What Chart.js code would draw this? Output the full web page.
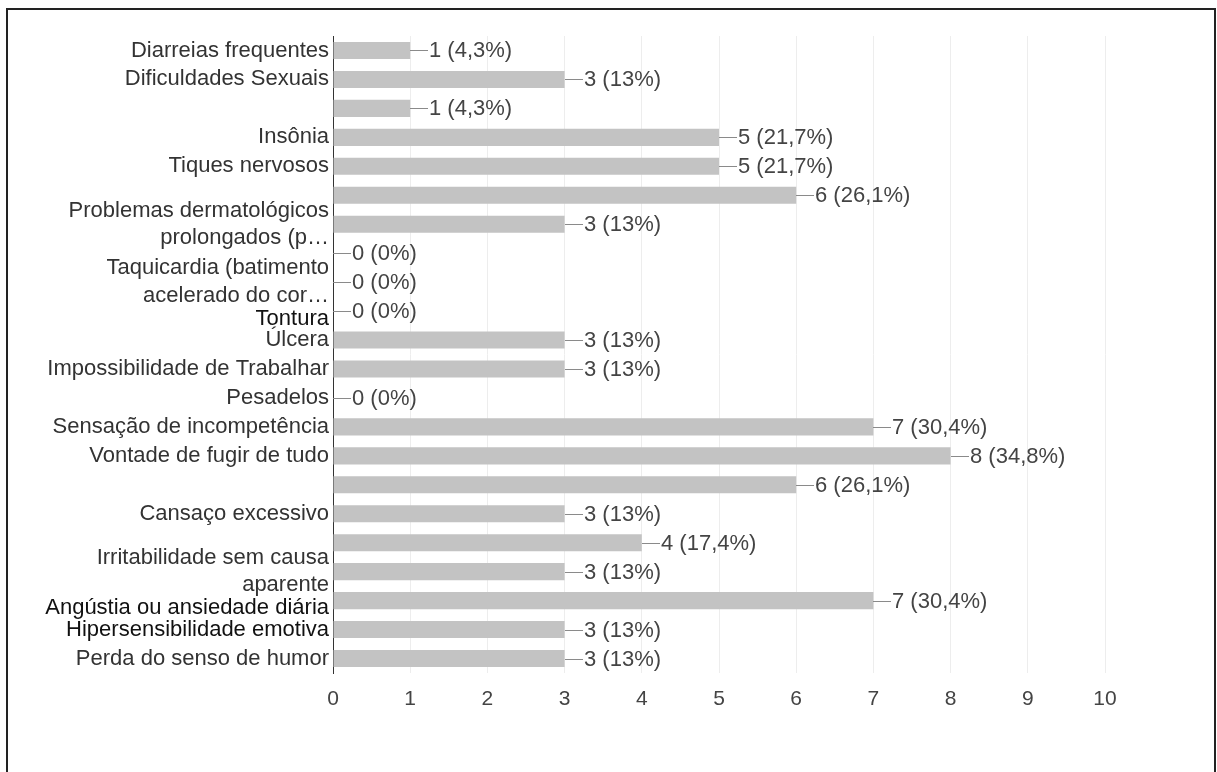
<!DOCTYPE html>
<html>
<head>
<meta charset="utf-8">
<script src="https://cdn.jsdelivr.net/npm/chart.js@4"></script>
<style>
  html, body { margin: 0; padding: 0; background: #fff; overflow: hidden; }
  #moldura {
    position: absolute; left: 6px; top: 8px;
    width: 1206px; height: 800px;
    border: 2px solid #222;
  }
  #area { position: absolute; left: 0; top: 0; width: 1206px; height: 762px; }
</style>
</head>
<body>
<div id="moldura"><div id="area"><canvas id="myChart"></canvas></div></div>
<script>
// sintomas (rótulos do eixo) e número de respostas
var sintomas = [
  "Diarreias frequentes",
  "Dificuldades Sexuais",
  "",
  "Insônia",
  "Tiques nervosos",
  "",
  ["Problemas dermatológicos", "prolongados (p…"],
  "",
  ["Taquicardia (batimento", "acelerado do cor…"],
  ["", "Tontura"],
  "Úlcera",
  "Impossibilidade de Trabalhar",
  "Pesadelos",
  "Sensação de incompetência",
  "Vontade de fugir de tudo",
  "",
  "Cansaço excessivo",
  "",
  ["Irritabilidade sem causa", "aparente"],
  ["", "Angústia ou ansiedade diária"],
  "Hipersensibilidade emotiva",
  "Perda do senso de humor"
];
var respostas = [1, 3, 1, 5, 5, 6, 3, 0, 0, 0, 3, 3, 0, 7, 8, 6, 3, 4, 3, 7, 3, 3];
var totalRespostas = 23;
var escalaX = [0, 10];

var fonte = '"Liberation Sans", Arial, sans-serif';

function texto(i) {
  var v = respostas[i];
  var pct = Math.round(v / totalRespostas * 1000) / 10;
  return v + " (" + String(pct).replace(".", ",") + "%)";
}

// linha guia + valor à direita de cada barra
var rotulos = {
  id: 'rotulos',
  afterDatasetsDraw: function(chart) {
    var ctx = chart.ctx;
    var meta = chart.getDatasetMeta(0);
    ctx.save();
    ctx.font = '22px ' + fonte;
    ctx.textBaseline = 'middle';
    ctx.textAlign = 'left';
    meta.data.forEach(function(bar, i) {
      var x = Math.round(bar.x), y = Math.round(bar.y);
      ctx.strokeStyle = '#8a8a8a';
      ctx.lineWidth = 1;
      ctx.beginPath();
      ctx.moveTo(x, y + 0.5);
      ctx.lineTo(x + 18, y + 0.5);
      ctx.stroke();
      ctx.fillStyle = '#444';
      ctx.fillText(texto(i), x + 19, y + 1);
    });
    ctx.restore();
  }
};

var ctx = document.getElementById("myChart");
var barGraph = new Chart(ctx, {
  type: 'bar',
  data: {
    labels: sintomas,
    datasets: [{
      label: 'Respostas',
      data: respostas,
      backgroundColor: 'rgb(195, 195, 195)',
      borderWidth: 0,
      barPercentage: 0.59,
      categoryPercentage: 1
    }]
  },
  options: {
    indexAxis: 'y',
    responsive: true,
    maintainAspectRatio: false,
    animation: false,
    layout: { padding: { top: 26, right: 109, bottom: 0, left: 0 } },
    plugins: {
      legend: { display: false },
      tooltip: { enabled: false }
    },
    scales: {
      x: {
        min: escalaX[0],
        max: escalaX[1],
        ticks: {
          stepSize: 1,
          color: '#444',
          padding: 14,
          font: { family: fonte, size: 21 }
        },
        grid: { color: '#ededed', drawTicks: false },
        border: { display: false },
        afterFit: function(s) { s.height = 99; }
      },
      y: {
        ticks: {
          autoSkip: false,
          padding: 4,
          color: function(c) {
            return (c.index === 9 || c.index === 19 || c.index === 20) ? '#111' : '#333';
          },
          font: function(c) {
            if (c.index === 9) return { family: fonte, size: 22, lineHeight: '16px' };
            if (c.index === 19) return { family: fonte, size: 22, lineHeight: '14px' };
            return { family: fonte, size: 22, lineHeight: 1.25 };
          }
        },
        grid: { display: false, drawTicks: false },
        border: { display: true, color: '#333', width: 1 },
        afterFit: function(s) { s.width = 325; }
      }
    }
  },
  plugins: [rotulos]
});
</script>
</body>
</html>
